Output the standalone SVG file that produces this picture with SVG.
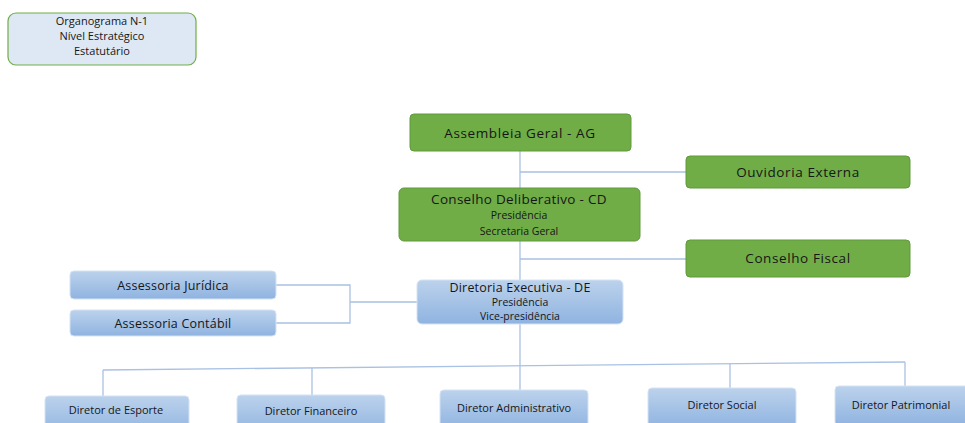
<svg xmlns="http://www.w3.org/2000/svg" width="965" height="423" viewBox="0 0 965 423">
<defs>
<linearGradient id="blueG" x1="0" y1="0" x2="0" y2="1">
<stop offset="0" stop-color="#bcd2ec"/>
<stop offset="1" stop-color="#8fb3e0"/>
</linearGradient>
<style>
.green{fill:#70ad47;stroke:#5f9a3a;stroke-width:1}
.blue{fill:url(#blueG);stroke:#d4e2f3;stroke-width:1}
.title{fill:#dde8f4;stroke:#70ad47;stroke-width:1.2}
.t{font-family:"Open Sans","Liberation Sans",sans-serif;fill:#161616;text-anchor:middle}
.big{font-size:13.5px;letter-spacing:0.6px}
.cd{font-size:13.5px;letter-spacing:0.3px}
.mid{font-size:12.5px;letter-spacing:0.2px}
.sm{font-size:10.5px}
.bt{font-size:11px}
.tt{font-size:11px}
.conn{fill:none;stroke:#a9c1e2;stroke-width:1.3}
</style>
</defs>
<g id="connectors">
<path class="conn" d="M520,151 V280"/>
<path class="conn" d="M520,172 H686"/>
<path class="conn" d="M520,259 H686"/>
<path class="conn" d="M276,285 H350 V323 H276"/>
<path class="conn" d="M350,302 H417"/>
<path class="conn" d="M520,324 V366"/>
<path class="conn" d="M103,370 L905,362"/>
<path class="conn" d="M103,370 V396"/>
<path class="conn" d="M312,368 V395"/>
<path class="conn" d="M520,366 V390"/>
<path class="conn" d="M730,364 V388"/>
<path class="conn" d="M905,362 V386"/>
</g>
<g id="n-title">
<rect class="title" x="8" y="13" width="188" height="52" rx="8"/>
<text class="t tt" x="102" y="25">Organograma N-1</text>
<text class="t tt" x="102" y="40">Nível Estratégico</text>
<text class="t tt" x="102" y="55">Estatutário</text>
</g>
<g id="n-ag">
<rect class="green" x="410" y="114" width="221" height="37" rx="4"/>
<text class="t big" x="520" y="138">Assembleia Geral - AG</text>
</g>
<g id="n-ouvidoria">
<rect class="green" x="686" y="156" width="224" height="32" rx="4"/>
<text class="t big" x="798" y="177">Ouvidoria Externa</text>
</g>
<g id="n-cd">
<rect class="green" x="399" y="188" width="241" height="53" rx="5"/>
<text class="t cd" x="519" y="204">Conselho Deliberativo - CD</text>
<text class="t sm" x="519" y="219">Presidência</text>
<text class="t sm" x="519" y="235">Secretaria Geral</text>
</g>
<g id="n-fiscal">
<rect class="green" x="686" y="240" width="224" height="37" rx="4"/>
<text class="t big" x="798" y="263">Conselho Fiscal</text>
</g>
<g id="n-juridica">
<rect class="blue" x="70" y="271" width="206" height="28" rx="4"/>
<text class="t mid" x="173" y="290">Assessoria Jurídica</text>
</g>
<g id="n-contabil">
<rect class="blue" x="70" y="310" width="206" height="26" rx="4"/>
<text class="t mid" x="173" y="328">Assessoria Contábil</text>
</g>
<g id="n-de">
<rect class="blue" x="417" y="280" width="206" height="44" rx="5"/>
<text class="t mid" x="520" y="292">Diretoria Executiva - DE</text>
<text class="t sm" x="520" y="306">Presidência</text>
<text class="t sm" x="520" y="320">Vice-presidência</text>
</g>
<g id="n-esporte">
<rect class="blue" x="45" y="396" width="144" height="40" rx="4"/>
<text class="t bt" x="116" y="414">Diretor de Esporte</text>
</g>
<g id="n-financeiro">
<rect class="blue" x="237" y="395" width="148" height="40" rx="4"/>
<text class="t bt" x="311" y="415">Diretor Financeiro</text>
</g>
<g id="n-administrativo">
<rect class="blue" x="440" y="390" width="148" height="40" rx="4"/>
<text class="t bt" x="514" y="412">Diretor Administrativo</text>
</g>
<g id="n-social">
<rect class="blue" x="648" y="388" width="148" height="40" rx="4"/>
<text class="t bt" x="722" y="409">Diretor Social</text>
</g>
<g id="n-patrimonial">
<rect class="blue" x="835" y="386" width="140" height="40" rx="4"/>
<text class="t bt" x="901" y="409">Diretor Patrimonial</text>
</g>
</svg>
